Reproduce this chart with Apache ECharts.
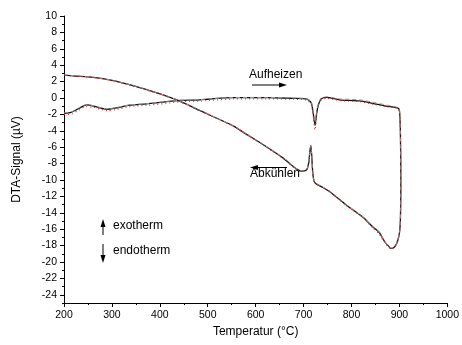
<!DOCTYPE html>
<html><head><meta charset="utf-8">
<script src="https://cdn.jsdelivr.net/npm/echarts@6/dist/echarts.min.js"></script>
<style>html,body{margin:0;padding:0;background:#fff}#c{width:462px;height:345px}</style>
</head><body><div id="c"></div>
<script>
// Temperature (°C) along the measured loop: heating 200->900, then cooling 900->200
const temps = [200,215,230,247,262,275,290,310,337,372,414,442,483,504,552,622,678,706,716,720,724,727,731,737,748,775,817,844,872,896,900,902,903,902,900,896,892,887,883,878,869,858,844,824,789,754,740,727,722,719,717,715,713,711,708,704,695,657,608,581,553,504,483,438,414,379,344,303,261,200];
// DTA signal (µV), run 1 (solid black)
const dtaSolid = [-1.87,-1.75,-1.3,-0.85,-0.98,-1.2,-1.38,-1.2,-0.88,-0.72,-0.45,-0.3,-0.22,-0.12,0.04,0.05,-0.04,-0.12,-0.6,-1.8,-3.3,-2.0,-0.8,-0.1,0.08,-0.22,-0.35,-0.65,-0.98,-1.2,-1.5,-4,-10,-15,-16.5,-17.5,-18.0,-18.3,-18.35,-18.1,-17.5,-16.4,-15.7,-14.55,-13.05,-11.4,-10.9,-10.5,-10.2,-9.0,-7.0,-5.8,-6.6,-7.8,-8.6,-8.85,-8.9,-7.3,-5.4,-4.43,-3.4,-2.07,-1.5,-0.3,0.24,0.89,1.5,2.11,2.52,2.8];
// DTA signal (µV), run 2 (red dotted)
const dtaDotted = [-2.0,-1.95,-1.5,-1.05,-1.15,-1.35,-1.55,-1.4,-1.05,-0.9,-0.65,-0.45,-0.38,-0.3,-0.12,-0.1,-0.15,-0.25,-0.8,-2.3,-3.9,-2.3,-0.95,-0.25,-0.05,-0.3,-0.45,-0.75,-1.05,-1.25,-1.55,-4,-10,-15,-16.5,-17.4,-17.9,-18.3,-18.45,-18.2,-17.6,-16.6,-15.8,-14.6,-13.1,-11.4,-10.9,-10.5,-10.2,-9.0,-7.0,-5.9,-6.7,-7.9,-8.6,-8.85,-8.95,-7.35,-5.45,-4.45,-3.45,-2.1,-1.55,-0.35,0.2,0.85,1.45,2.08,2.5,2.78];
// DTA signal (µV), run 3 (grey dashed)
const dtaDashed = [-1.8,-1.7,-1.25,-0.8,-0.95,-1.15,-1.33,-1.15,-0.85,-0.7,-0.42,-0.28,-0.2,-0.1,0.06,0.07,0.0,-0.08,-0.5,-1.6,-3.0,-1.8,-0.7,0.0,0.15,-0.1,-0.22,-0.5,-0.85,-1.15,-1.45,-4,-10,-15,-16.5,-17.5,-18.0,-18.25,-18.3,-18.05,-17.45,-16.35,-15.65,-14.5,-13.0,-11.35,-10.85,-10.45,-10.15,-9.0,-7.0,-5.8,-6.6,-7.8,-8.55,-8.8,-8.85,-7.25,-5.35,-4.4,-3.38,-2.05,-1.48,-0.28,0.26,0.9,1.52,2.13,2.54,2.82];

const xTicks = [200,300,400,500,600,700,800,900,1000];
const yMajorTicks = [-24,-22,-20,-18,-16,-14,-12,-10,-8,-6,-4,-2,0,2,4,6,8,10];
const yMinorTicks = [-25,-23,-21,-19,-17,-15,-13,-11,-9,-7,-5,-3,-1,1,3,5,7,9];

const pair = (ys) => temps.map((t, i) => [t, ys[i]]);
const FONT = '"Liberation Sans", Arial, sans-serif';

const chart = echarts.init(document.getElementById('c'), null, {renderer: 'canvas'});
chart.setOption({
  animation: false,
  backgroundColor: '#fff',
  grid: {left: 64, right: 14, top: 16, bottom: 42},
  xAxis: {
    type: 'value', min: 200, max: 1000, interval: 100,
    name: 'Temperatur (°C)', nameLocation: 'middle', nameGap: 21,
    nameTextStyle: {fontFamily: FONT, fontSize: 12, color: '#000'},
    axisLine: {show: true, onZero: false, lineStyle: {color: '#000', width: 1}},
    axisTick: {show: true, length: 4, lineStyle: {color: '#000'}},
    minorTick: {show: true, splitNumber: 2, length: 2, lineStyle: {color: '#000'}},
    axisLabel: {fontFamily: FONT, fontSize: 10.5, color: '#000', margin: 7, customValues: xTicks, formatter: (v) => String(v)},
    splitLine: {show: false}
  },
  yAxis: [{
    type: 'value', min: -25, max: 10,
    name: 'DTA-Signal (µV)', nameLocation: 'middle', nameGap: 41,
    nameTextStyle: {fontFamily: FONT, fontSize: 12, color: '#000'},
    axisLine: {show: true, onZero: false, lineStyle: {color: '#000', width: 1}},
    axisTick: {show: true, length: 4, customValues: yMajorTicks, lineStyle: {color: '#000'}},
    axisLabel: {fontFamily: FONT, fontSize: 10.5, color: '#000', margin: 7, customValues: yMajorTicks, formatter: (v) => String(v)},
    splitLine: {show: false}
  }, {
    type: 'value', min: -25, max: 10, position: 'left',
    axisLine: {show: false, onZero: false},
    axisTick: {show: true, length: 2, customValues: yMinorTicks, lineStyle: {color: '#000'}},
    axisLabel: {show: false},
    splitLine: {show: false}
  }],
  series: [
    {type: 'line', data: pair(dtaSolid), showSymbol: false, smooth: 0.25, lineStyle: {color: '#111', width: 1.3}, z: 2},
    {type: 'line', data: pair(dtaDashed), showSymbol: false, smooth: 0.25, lineStyle: {color: '#999', width: 1, type: [4, 3]}, z: 3},
    {type: 'line', data: pair(dtaDotted), showSymbol: false, smooth: 0.25, lineStyle: {color: '#c83232', width: 1.2, type: [1, 3]}, z: 4}
  ],
  graphic: [
    {type: 'text', left: 249, top: 69, style: {text: 'Aufheizen', font: '12px ' + FONT, fill: '#000'}},
    {type: 'line', shape: {x1: 252, y1: 85, x2: 280, y2: 85}, style: {stroke: '#000', lineWidth: 1}},
    {type: 'polygon', shape: {points: [[287, 85], [279, 82.5], [279, 87.5]]}, style: {fill: '#000'}},
    {type: 'text', left: 250, top: 168, style: {text: 'Abkühlen', font: '12px ' + FONT, fill: '#000'}},
    {type: 'line', shape: {x1: 258, y1: 167.5, x2: 287, y2: 167.5}, style: {stroke: '#000', lineWidth: 1}},
    {type: 'polygon', shape: {points: [[250, 167.5], [258, 165], [258, 170]]}, style: {fill: '#000'}},
    {type: 'line', shape: {x1: 103, y1: 226, x2: 103, y2: 235}, style: {stroke: '#000', lineWidth: 1}},
    {type: 'polygon', shape: {points: [[103, 219], [100.5, 227], [105.5, 227]]}, style: {fill: '#000'}},
    {type: 'text', left: 113, top: 220, style: {text: 'exotherm', font: '12px ' + FONT, fill: '#000'}},
    {type: 'line', shape: {x1: 103, y1: 244, x2: 103, y2: 255}, style: {stroke: '#000', lineWidth: 1}},
    {type: 'polygon', shape: {points: [[103, 263], [100.5, 255], [105.5, 255]]}, style: {fill: '#000'}},
    {type: 'text', left: 113, top: 245, style: {text: 'endotherm', font: '12px ' + FONT, fill: '#000'}}
  ]
});
</script></body></html>
